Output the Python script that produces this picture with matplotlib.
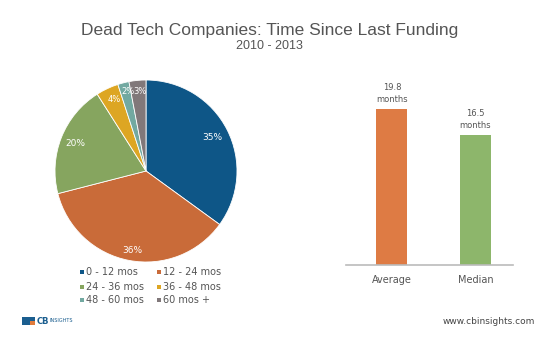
import matplotlib
matplotlib.use("Agg")
import matplotlib.pyplot as plt
from matplotlib.patches import Rectangle

categories = ["0 - 12 mos", "12 - 24 mos", "24 - 36 mos", "36 - 48 mos", "48 - 60 mos", "60 mos +"]
shares = [35, 36, 20, 4, 2, 3]
pie_colors = ["#0E5687", "#C96B39", "#86A55F", "#DDA623", "#72A9A1", "#81787A"]

bar_labels = ["Average", "Median"]
bar_values = [19.8, 16.5]
bar_colors = ["#DE7B44", "#8DB66B"]

W, H = 543, 340
fig = plt.figure(figsize=(W / 100, H / 100), dpi=100)
fig.patch.set_facecolor("white")

def fx(px):
    return px / W

def fy(py):
    return 1 - py / H

fig.text(0.497, fy(31), "Dead Tech Companies: Time Since Last Funding", ha="center", va="center",
         fontsize=12.5, color="#555555", family="Liberation Sans")
fig.text(0.497, fy(46), "2010 - 2013", ha="center", va="center", fontsize=9, color="#555555",
         family="Liberation Sans")

# Pie
cx, cy, r = 146, 171, 91
pax = fig.add_axes([fx(cx - r), fy(cy + r), fx(2 * r), 2 * r / H])
wedges, texts = pax.pie(shares, colors=pie_colors, startangle=90, counterclock=False,
                        wedgeprops=dict(linewidth=0.6, edgecolor="white"))
pax.set_xlim(-1.0, 1.0)
pax.set_ylim(-1.0, 1.0)
pax.set_aspect("equal")
label_pos = [(0.73, 0.37), (-0.15, -0.87), (-0.78, 0.30), (-0.35, 0.79), (-0.2, 0.87), (-0.07, 0.87)]
label_size = [6.5, 6.5, 6.5, 6, 6, 6]
for s, (lx, ly), fs in zip(shares, label_pos, label_size):
    pax.text(lx, ly, f"{s}%", ha="center", va="center", fontsize=fs, color="white")

# Legend
leg_x = [80, 157]
leg_y = [272, 287, 300]
for i, (cat, col) in enumerate(zip(categories, pie_colors)):
    row, colm = divmod(i, 2)
    x0 = leg_x[colm]
    y0 = leg_y[row]
    fig.patches.append(Rectangle((fx(x0), fy(y0) - 2 / H), 4 / W, 4 / H, transform=fig.transFigure,
                                 facecolor=col, edgecolor="none"))
    fig.text(fx(x0 + 6), fy(y0), cat, ha="left", va="center", fontsize=7, color="#555555")

# Bars
bax = fig.add_axes([fx(346), fy(265), fx(513 - 346), (265 - 80) / H])
xs = [0, 1]
bax.bar(xs, bar_values, width=0.37, color=bar_colors)
bax.set_xlim(-0.55, 1.45)
bax.set_ylim(0, 185 / 7.88)
for x, v in zip(xs, bar_values):
    bax.text(x, v + 0.6, f"{v}\nmonths", ha="center", va="bottom", fontsize=6, color="#555555",
             linespacing=1.4)
bax.set_xticks(xs)
bax.set_xticklabels(bar_labels, fontsize=7, color="#555555")
bax.tick_params(axis="x", length=0, pad=7)
bax.set_yticks([])
for sp in ["top", "right", "left"]:
    bax.spines[sp].set_visible(False)
bax.spines["bottom"].set_color("#BBBBBB")
bax.spines["bottom"].set_linewidth(1.2)

# Footer
fig.patches.append(Rectangle((fx(22), fy(325)), 13 / W, 8 / H, transform=fig.transFigure,
                             facecolor="#1B5E8F", edgecolor="none"))
fig.patches.append(Rectangle((fx(30), fy(325)), 5 / W, 4 / H, transform=fig.transFigure,
                             facecolor="#E07B3C", edgecolor="none"))
fig.text(fx(37), fy(321), "CB", ha="left", va="center", fontsize=6, color="#1B5E8F", fontweight="bold")
fig.text(fx(49), fy(321), "INSIGHTS", ha="left", va="center", fontsize=3.5, color="#1B5E8F")
fig.text(fx(535), fy(321), "www.cbinsights.com", ha="right", va="center", fontsize=6.5, color="#444444")

fig.savefig("out.png", dpi=100, facecolor="white")
